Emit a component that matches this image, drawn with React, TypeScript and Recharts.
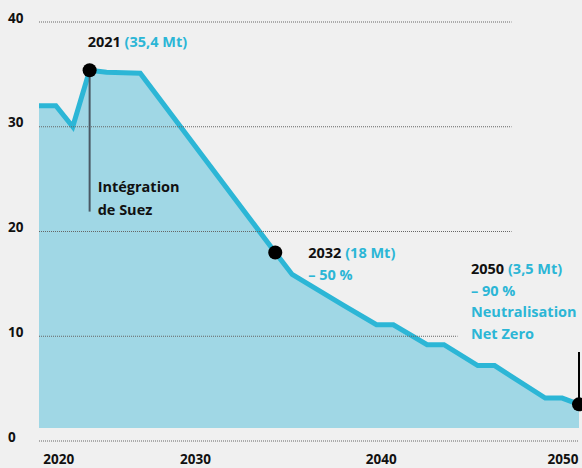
import React from 'react';
import { ComposedChart, Area, XAxis, YAxis, ReferenceLine, ReferenceDot } from 'recharts';

// ---- data ----
const years = [2018, 2019, 2020, 2021, 2022, 2024, 2032, 2033, 2036, 2038, 2039, 2041, 2042, 2044, 2045, 2048, 2049, 2050];
const emissions = [32.0, 32.0, 30.0, 35.4, 35.2, 35.1, 18.0, 15.9, 13.0, 11.1, 11.1, 9.2, 9.2, 7.2, 7.2, 4.1, 4.1, 3.5];
const xTicks = [2020, 2030, 2040, 2050];
const yTicks = [0, 10, 20, 30, 40];
const milestoneYears = [2021, 2032, 2050];
const milestoneValues = [35.4, 18, 3.5];
const milestoneTitles = ['2021 ', '2032 ', '2050 '];
const milestoneAmounts = ['(35,4 Mt)', '(18 Mt)', '(3,5 Mt)'];
const milestoneExtra = [[], ['– 50 %'], ['– 90 %', 'Neutralisation', 'Net Zero']];
const suezLines = ['Intégration', 'de Suez'];

// ---- styles / layout ----
const BLUE = '#2cb6d6';
const FILL = '#a0d7e5';
const BG = '#f0f0f0';
const FONT = '"Open Sans", sans-serif';
const gridEnds = [2050, 2042.8, 2046, 2046, 2046]; // per yTicks row
const xTickShift = [-14, -46, -29, -16];
const noteOffsets = [
  { dx: -2, dy: -23 },
  { dx: 33, dy: 6 },
  { dx: -108, dy: -130 },
];
const LINE_H = 21.5;

const data = years.map((y, i) => ({ year: y, v: emissions[i] }));

const XTick = (props: any) => {
  const { x, y, payload } = props;
  const i = xTicks.indexOf(payload.value);
  return (
    <text x={x + (xTickShift[i] ?? 0)} y={y + 15} textAnchor="middle" fontFamily={FONT} fontWeight={700} fontSize={13.5} fill="#111">
      {payload.value}
    </text>
  );
};

const YTick = (props: any) => {
  const { y, payload } = props;
  return (
    <text x={8} y={y + 0.5} textAnchor="start" fontFamily={FONT} fontWeight={700} fontSize={13.5} fill="#111">
      {payload.value}
    </text>
  );
};

const makeNote = (i: number) => (p: any) => {
  const vb = p.viewBox || {};
  const cx = vb.x + (vb.width || 0) / 2;
  const cy = vb.y + (vb.height || 0) / 2;
  const tx = cx + noteOffsets[i].dx;
  const ty = cy + noteOffsets[i].dy;
  return (
    <g fontFamily={FONT} fontWeight={700} fontSize={14.5}>
      <text x={tx} y={ty}>
        <tspan fill="#111">{milestoneTitles[i]}</tspan>
        <tspan fill={BLUE}>{milestoneAmounts[i]}</tspan>
      </text>
      {milestoneExtra[i].map((t, k) => (
        <text key={k} x={tx} y={ty + LINE_H * (k + 1)} fill={BLUE}>{t}</text>
      ))}
      {i === 0 && suezLines.map((t, k) => (
        <text key={'s' + k} x={cx + 8} y={cy + 122 + 22.5 * k} fill="#111">{t}</text>
      ))}
    </g>
  );
};

export default function App() {
  return (
    <div style={{ position: 'absolute', left: 0, top: 0, width: 582, height: 468, background: BG, overflow: 'hidden' }}>
      <ComposedChart width={582} height={468} data={data} margin={{ top: 22, right: 3, bottom: 0, left: 0 }}>
        <XAxis dataKey="year" type="number" domain={[2018, 2050]} ticks={xTicks} interval={0} axisLine={false} tickLine={false} height={27} tick={<XTick />} />
        <YAxis type="number" domain={[0, 40]} ticks={yTicks} interval={0} axisLine={false} tickLine={false} width={39} tick={<YTick />} />
        <Area type="linear" dataKey="v" stroke={BLUE} strokeWidth={5} fill={FILL} fillOpacity={1} baseValue={1.25} isAnimationActive={false} dot={false} activeDot={false} />
        {yTicks.map((t, i) => (
          <ReferenceLine key={'g' + t} segment={[{ x: 2018, y: t }, { x: gridEnds[i], y: t }]} stroke="#666" strokeWidth={1} strokeDasharray="1 1" ifOverflow="visible" />
        ))}
        <ReferenceLine segment={[{ x: 2021, y: 35.4 }, { x: 2021, y: 21.9 }]} stroke="#4a5864" strokeWidth={2} />
        <ReferenceLine segment={[{ x: 2050, y: 3.5 }, { x: 2050, y: 8.5 }]} stroke="#000" strokeWidth={2} ifOverflow="visible" />
        {milestoneYears.map((y, i) => (
          <ReferenceDot key={'d' + y} x={y} y={milestoneValues[i]} r={7} fill="#000" stroke="none" ifOverflow="visible" label={{ content: makeNote(i) } as any} />
        ))}
      </ComposedChart>
    </div>
  );
}
